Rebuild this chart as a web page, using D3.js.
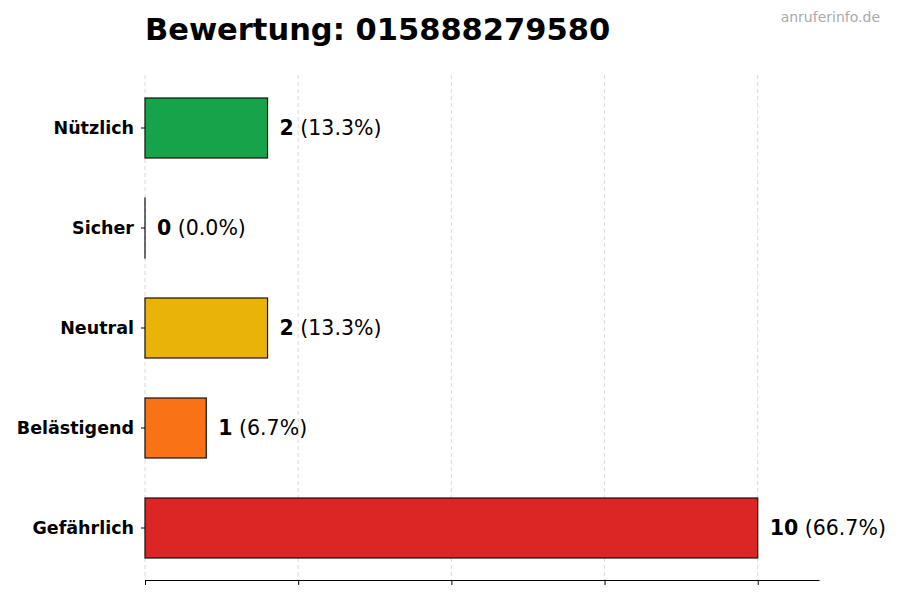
<!DOCTYPE html>
<html>
<head>
<meta charset="utf-8">
<script src="https://cdn.jsdelivr.net/npm/d3@7"></script>
<style>
  body { margin: 0; background: #fff; }
  svg { font-family: "DejaVu Sans", sans-serif; }
</style>
</head>
<body>
<svg id="chart"></svg>
<script>
const categories = ["Nützlich", "Sicher", "Neutral", "Belästigend", "Gefährlich"];
const counts = [2, 0, 2, 1, 10];
const percents = ["13.3%", "0.0%", "13.3%", "6.7%", "66.7%"];
const colors = ["#16a34a", "#3b82f6", "#eab308", "#f97316", "#dc2626"];
const xTicks = [0, 2.5, 5, 7.5, 10];

const width = 900;
const height = 600;
const plotLeft = 145, plotRight = 819, plotTop = 75, plotBottom = 580;

const svg = d3.select("#chart")
  .attr("width", width)
  .attr("height", height);

const x = d3.scaleLinear().domain([0, 11]).range([plotLeft, plotRight]);
const y = d3.scaleBand().domain(categories).range([plotTop + 3, plotBottom - 2])
  .paddingInner(0.4).paddingOuter(0.2);

// grid lines
svg.append("g")
  .selectAll("line")
  .data(xTicks)
  .enter()
  .append("line")
  .attr("x1", d => x(d))
  .attr("x2", d => x(d))
  .attr("y1", plotTop)
  .attr("y2", plotBottom)
  .attr("stroke", "#d0d0d0")
  .attr("stroke-width", 0.8)
  .attr("stroke-dasharray", "4,3");

// bars
svg.append("g")
  .selectAll("rect")
  .data(categories)
  .enter()
  .append("rect")
  .attr("x", x(0))
  .attr("y", d => y(d))
  .attr("width", (d, i) => Math.max(x(counts[i]) - x(0), 0.01))
  .attr("height", y.bandwidth())
  .attr("fill", (d, i) => colors[i])
  .attr("stroke", "#111")
  .attr("stroke-width", 1.2);

// value labels
const labels = svg.append("g")
  .selectAll("text")
  .data(categories)
  .enter()
  .append("text")
  .attr("x", (d, i) => x(counts[i]) + 12)
  .attr("y", d => y(d) + y.bandwidth() / 2)
  .attr("dy", "0.35em")
  .style("font-size", "20.5px")
  .attr("fill", "#000");
labels.append("tspan").style("font-weight", "bold").text((d, i) => counts[i]);
labels.append("tspan").text((d, i) => " (" + percents[i] + ")");

// x axis
const xAxis = svg.append("g")
  .attr("transform", `translate(0, ${plotBottom})`)
  .call(d3.axisBottom(x).tickValues(xTicks).tickFormat("").tickSize(5).tickSizeOuter(0));
xAxis.select(".domain").attr("stroke", "#000").attr("stroke-width", 1);
xAxis.selectAll(".tick line").attr("stroke", "#000");

// y axis
const yAxis = svg.append("g")
  .attr("transform", `translate(${plotLeft}, 0)`)
  .call(d3.axisLeft(y).tickSize(4).tickPadding(7));
yAxis.select(".domain").remove();
yAxis.selectAll(".tick line").attr("stroke", "#000");
yAxis.selectAll(".tick text")
  .style("font-size", "17.5px")
  .style("font-weight", "bold")
  .style("font-family", "DejaVu Sans, sans-serif")
  .attr("fill", "#000");

// title
svg.append("text")
  .attr("x", plotLeft)
  .attr("y", 40)
  .style("font-size", "30.5px")
  .style("font-weight", "bold")
  .attr("fill", "#000")
  .text("Bewertung: 015888279580");

// watermark
svg.append("text")
  .attr("x", 880)
  .attr("y", 22)
  .attr("text-anchor", "end")
  .style("font-size", "14px")
  .attr("fill", "#aaaaaa")
  .text("anruferinfo.de");
</script>
</body>
</html>
